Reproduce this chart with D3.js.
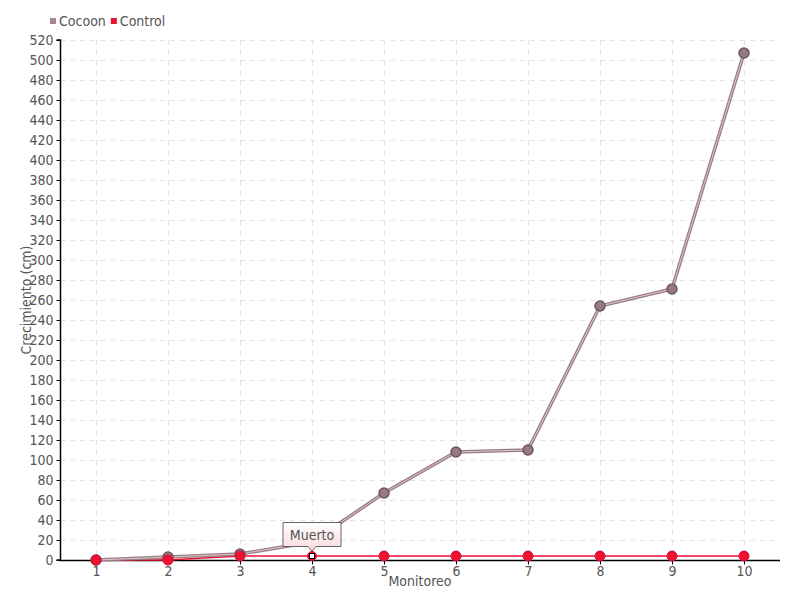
<!DOCTYPE html>
<html>
<head>
<meta charset="utf-8">
<script src="https://cdn.jsdelivr.net/npm/d3@7"></script>
<style>
  body { margin: 0; background: #fff; }
  svg text { font-family: "DejaVu Sans Condensed", "Liberation Sans Narrow", sans-serif; fill: #555; }
</style>
</head>
<body>
<svg id="chart" width="800" height="600"></svg>
<script>
// data
var monitoreo = ['1', '2', '3', '4', '5', '6', '7', '8', '9', '10'];
var cocoon = [0, 3, 6, 18, 67, 108, 110, 254, 271, 507];
var control = [0, 0, 4, 4, 4, 4, 4, 4, 4, 4];
var yTicks = d3.range(0, 521, 20);
var seriesNames = ['Cocoon', 'Control'];
var tipIndex = 3;
var tipText = 'Muerto';

var svg = d3.select('#chart');
var margin = {top: 40, right: 20, bottom: 40, left: 60};
var W = 800, H = 600;
var w = W - margin.left - margin.right;
var h = H - margin.top - margin.bottom;

var x = d3.scalePoint().domain(monitoreo).range([0, w]).padding(0.5);
var y = d3.scaleLinear().domain([0, 520]).range([h, 0]);

var g = svg.append('g').attr('transform', 'translate(' + margin.left + ',' + margin.top + ')');

// grid
g.append('g').selectAll('line').data(yTicks.slice(1)).enter().append('line')
  .attr('x1', 0).attr('x2', w)
  .attr('y1', function(d){ return y(d) + 0.5; }).attr('y2', function(d){ return y(d) + 0.5; })
  .attr('stroke', '#e2e2e2').attr('stroke-dasharray', '5,5');
g.append('g').selectAll('line').data(monitoreo).enter().append('line')
  .attr('x1', function(d){ return x(d) + 0.5; }).attr('x2', function(d){ return x(d) + 0.5; })
  .attr('y1', 0).attr('y2', h)
  .attr('stroke', '#e2e2e2').attr('stroke-dasharray', '5,5');

// axes
var yAxis = g.append('g').attr('transform', 'translate(0.5,0)')
  .call(d3.axisLeft(y).tickValues(yTicks).tickSize(4).tickPadding(3));
var xAxis = g.append('g').attr('transform', 'translate(0,' + (h + 0.5) + ')')
  .call(d3.axisBottom(x).tickSize(4).tickPadding(2).tickSizeOuter(0));
[yAxis, xAxis].forEach(function(a){
  a.select('.domain').attr('stroke', '#000').attr('stroke-width', 1.5);
  a.selectAll('.tick line').attr('stroke', '#000');
  a.selectAll('.tick text').attr('font-size', 14).style('fill', '#555')
    .style('font-family', '"DejaVu Sans Condensed", sans-serif');
});
yAxis.select('.domain').attr('d', 'M-4,0H0V' + h + 'H-4');
xAxis.select('.domain').attr('d', 'M0,0H' + w);

// axis titles
svg.append('text').attr('x', margin.left + w / 2).attr('y', 586)
  .attr('text-anchor', 'middle').attr('font-size', 14).text('Monitoreo');
svg.append('text').attr('transform', 'translate(31,' + (margin.top + h / 2) + ') rotate(-90)')
  .attr('text-anchor', 'middle').attr('font-size', 14).text('Crecimiento (cm)');

// lines
var line = d3.line().x(function(d, i){ return x(monitoreo[i]); }).y(function(d){ return y(d); });

g.append('path').datum(control).attr('d', line)
  .attr('fill', 'none').attr('stroke', '#ee1133').attr('stroke-width', 1.5);

g.append('path').datum(cocoon).attr('d', line)
  .attr('fill', 'none').attr('stroke', '#9c7d84').attr('stroke-width', 3.5);
g.append('path').datum(cocoon).attr('d', line)
  .attr('fill', 'none').attr('stroke', '#e9dcdf').attr('stroke-width', 0.8);

// markers
g.append('g').selectAll('circle').data(cocoon).enter().append('circle')
  .attr('cx', function(d, i){ return x(monitoreo[i]); })
  .attr('cy', function(d){ return y(d); })
  .attr('r', 5).attr('fill', '#967a80').attr('stroke', '#6d575c').attr('stroke-width', 1.5);

g.append('g').selectAll('circle').data(control).enter().append('circle')
  .attr('cx', function(d, i){ return x(monitoreo[i]); })
  .attr('cy', function(d){ return y(d); })
  .attr('r', function(d, i){ return i === tipIndex ? 4.5 : 5; })
  .attr('fill', '#ee1133').attr('stroke', '#d9102d').attr('stroke-width', 1);

// hover marker
var hx = x(monitoreo[tipIndex]), hy = y(control[tipIndex]);
g.append('rect').attr('x', hx - 2.5).attr('y', hy - 2.5).attr('width', 5).attr('height', 5)
  .attr('fill', '#fff').attr('stroke', '#000').attr('stroke-width', 1);

// tooltip
var defs = svg.append('defs');
var grad = defs.append('linearGradient').attr('id', 'tipgrad').attr('x1', 0).attr('y1', 0).attr('x2', 0).attr('y2', 1);
grad.append('stop').attr('offset', '0%').attr('stop-color', '#ffffff');
grad.append('stop').attr('offset', '100%').attr('stop-color', '#fbd9db');
var tw = 59, th = 25;
var tip = g.append('g').attr('transform', 'translate(' + (hx - tw / 2) + ',' + (hy - th - 9) + ')');
tip.append('path')
  .attr('d', 'M0.5,0.5H' + (tw - 0.5) + 'V' + (th - 0.5) + 'H' + (tw / 2 + 4) + 'L' + (tw / 2) + ',' + (th + 4) + 'L' + (tw / 2 - 4) + ',' + (th - 0.5) + 'H0.5Z')
  .attr('fill', 'url(#tipgrad)').attr('stroke', '#666').attr('stroke-width', 1);
tip.append('text').attr('x', tw / 2).attr('y', 18).attr('text-anchor', 'middle')
  .attr('font-size', 14).text(tipText);

// legend
var legendColors = ['#a8878e', '#ee1133'];
var lg = svg.append('g').attr('transform', 'translate(50,22)');
var lx = 0;
seriesNames.forEach(function(n, i){
  lg.append('rect').attr('x', lx).attr('y', -4).attr('width', 6).attr('height', 6).attr('fill', legendColors[i]);
  var t = lg.append('text').attr('x', lx + 9).attr('y', 4).attr('font-size', 14).text(n);
  lx += 9 + t.node().getComputedTextLength() + 5;
});
</script>
</body>
</html>
